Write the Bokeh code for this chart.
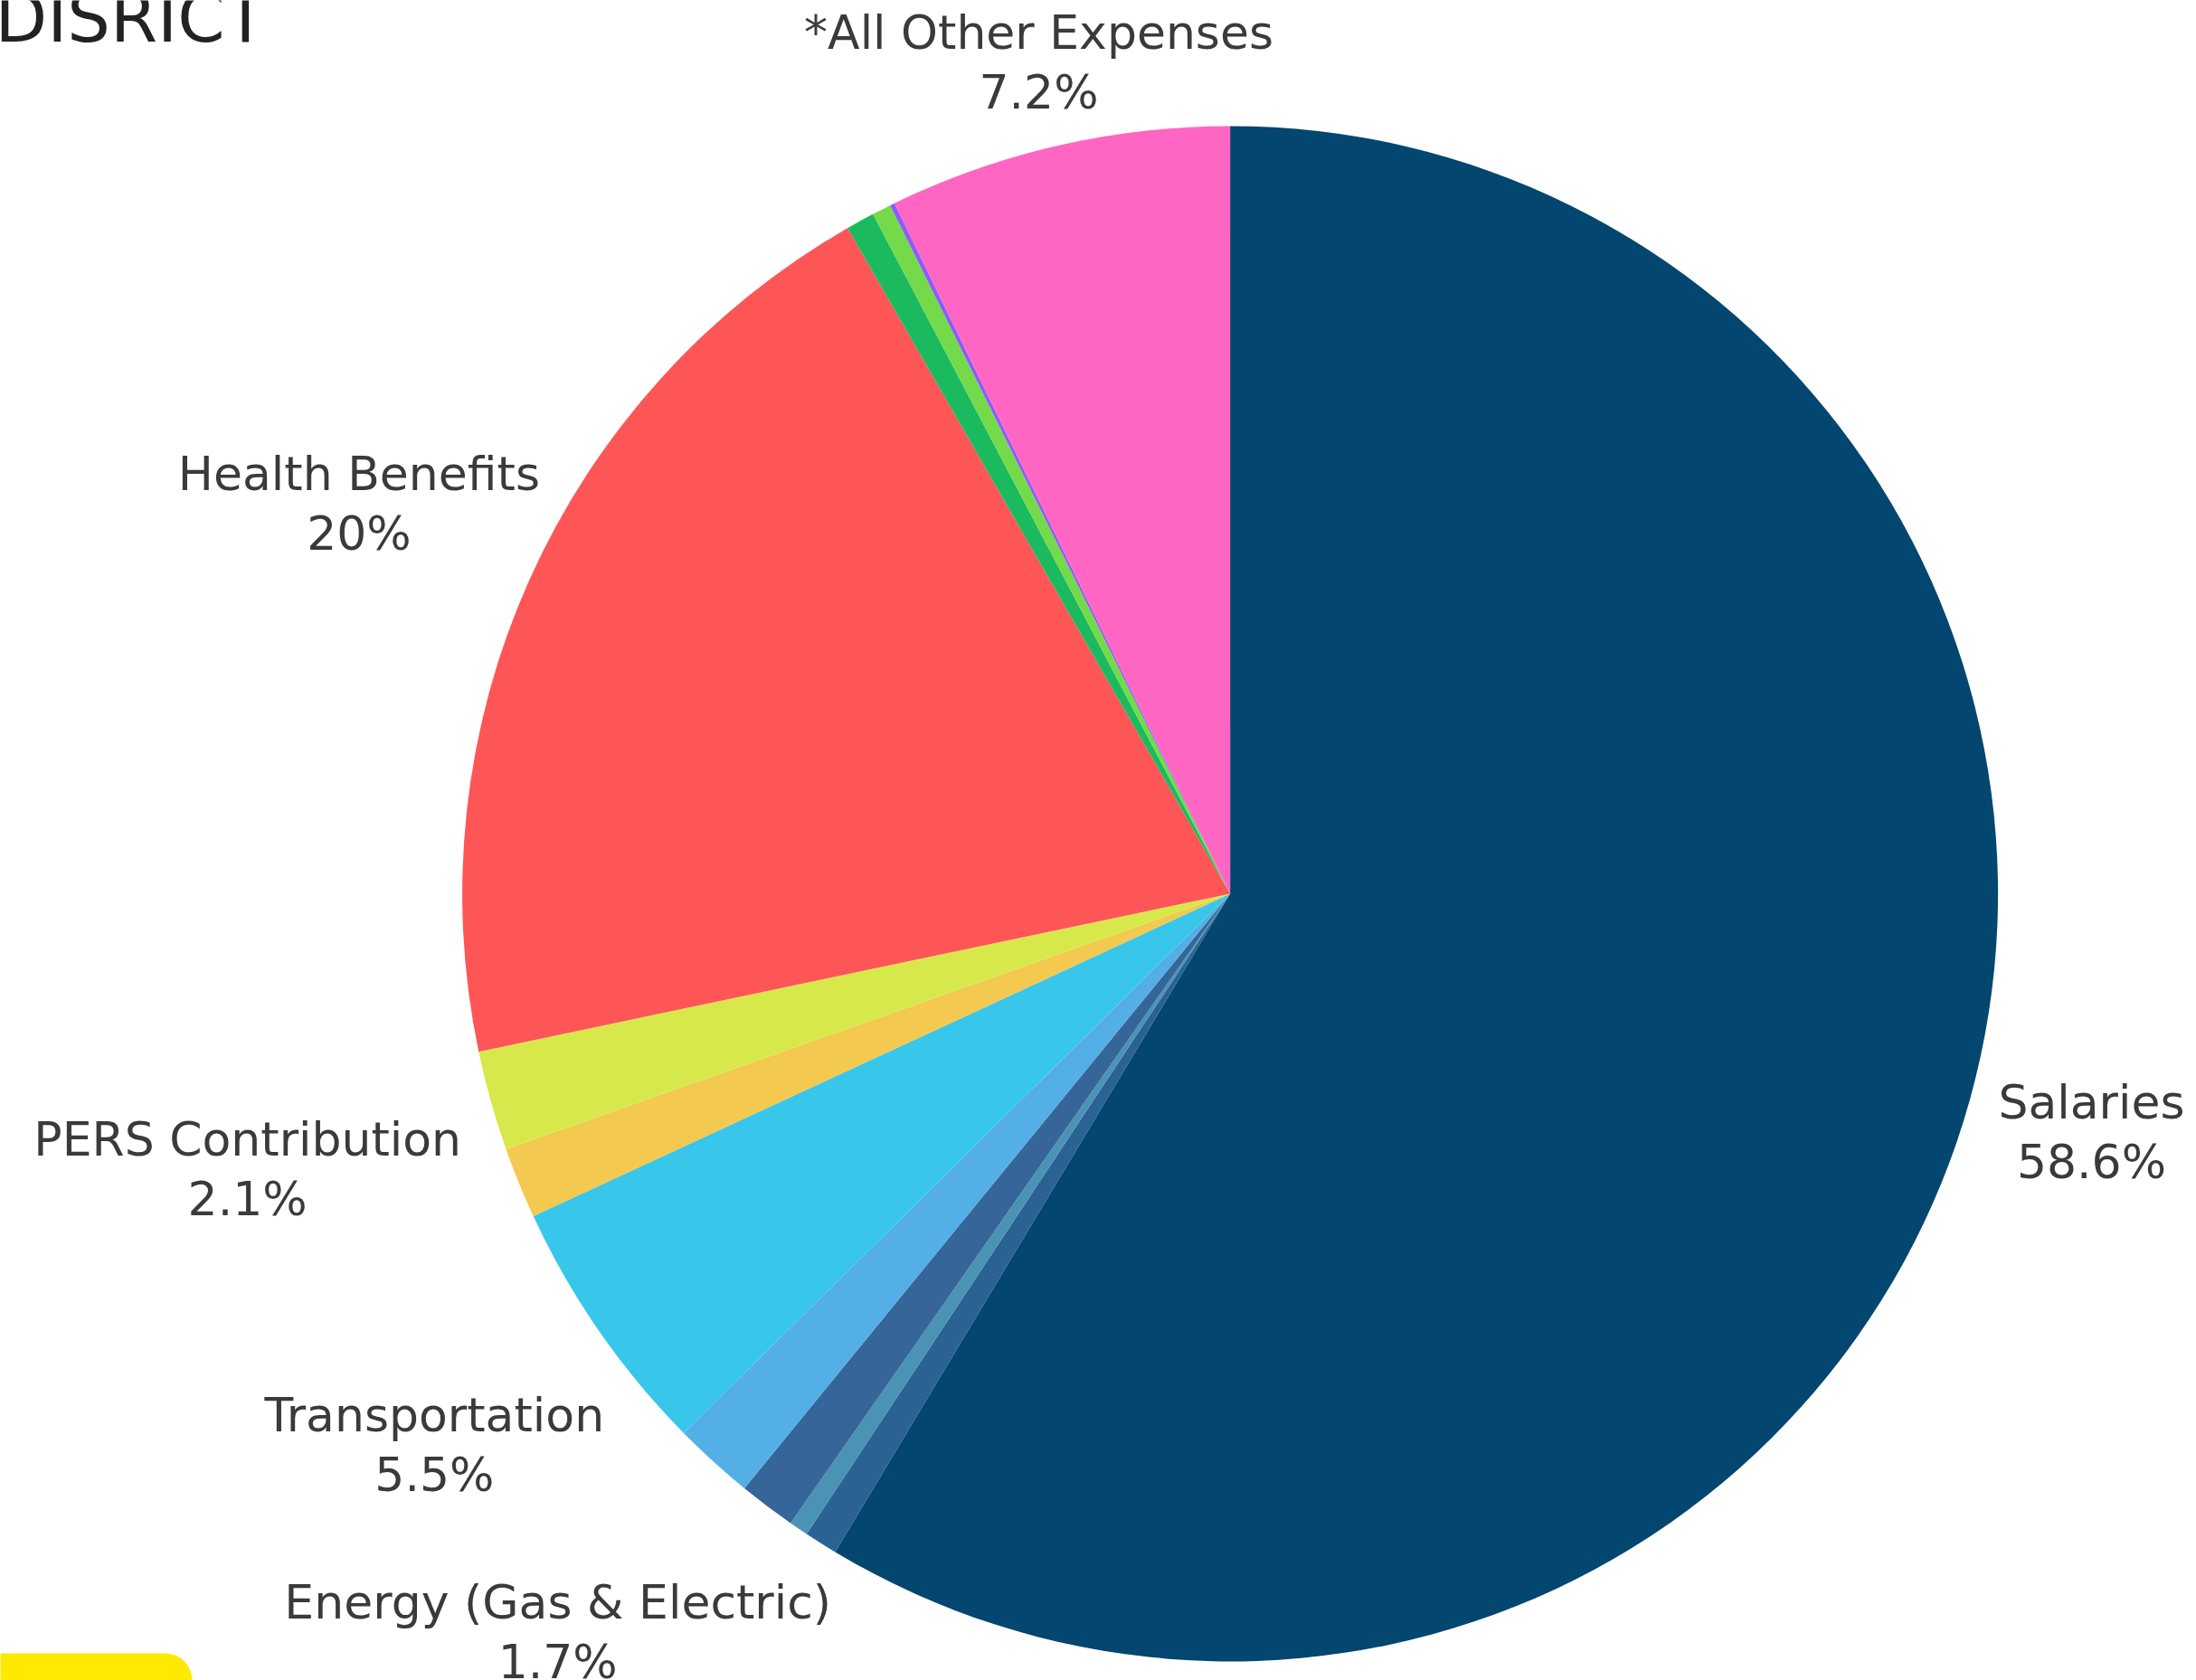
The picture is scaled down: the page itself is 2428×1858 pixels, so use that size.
import numpy as np
from bokeh.plotting import figure
from bokeh.models import ColumnDataSource, Range1d
from bokeh.core.properties import value
from bokeh.embed import file_html
from bokeh.resources import INLINE

# ---------------- data ----------------
categories = ["Salaries", "Other A", "Other B", "Other C", "Energy (Gas & Electric)",
              "Transportation", "Other D", "PERS Contribution", "Health Benefits",
              "Other E", "Other F", "Other G", "*All Other Expenses"]
shares = [58.6, 0.7, 0.4, 1.2, 1.7, 5.5, 1.5, 2.1, 20.0, 0.6, 0.4, 0.1, 7.2]
pct_labels = ["58.6%", "", "", "", "1.7%", "5.5%", "", "2.1%", "20%", "", "", "", "7.2%"]
show_label = [True, False, False, False, True, True, False, True, True, False, False, False, True]
colors = ["#03466f", "#2b6294", "#4a93b4", "#36659a", "#53afe5", "#38c7eb",
          "#f3c94f", "#d7e94a", "#fe5656", "#1bba5f", "#74da4a", "#8f5cf7", "#ff66c4"]
title_text = "DISRICT"

# ---------------- layout ----------------
W, H = 2428, 1858
cx, cy, R = 1359.6, H - 987.9, 849.0
label_dist = [1.164, 0, 0, 0, 1.301, 1.261, 0, 1.329, 1.243, 0, 0, 0, 1.111]
half_gap = 33
font = value("DejaVu Sans")
txt_color = "#3a3a3a"

p = figure(width=W, height=H, x_range=Range1d(0, W), y_range=Range1d(0, H),
           output_backend="svg", toolbar_location=None, min_border=0,
           x_axis_type=None, y_axis_type=None)
p.grid.visible = False
p.outline_line_color = None
p.background_fill_color = "white"
p.border_fill_color = "white"

arr = np.array(shares, dtype=float)
frac = arr / arr.sum()
cum_end = np.cumsum(frac) * 2 * np.pi
cum_start = cum_end - frac * 2 * np.pi
src = ColumnDataSource(dict(
    cat=categories,
    start=np.pi / 2 - cum_end,
    end=np.pi / 2 - cum_start,
    color=colors,
))
p.wedge(x=cx, y=cy, radius=R, start_angle="start", end_angle="end",
        fill_color="color", line_color=None, source=src)

mid = (cum_start + cum_end) / 2
lx, ly, names, pcts = [], [], [], []
for i, show in enumerate(show_label):
    if not show:
        continue
    d = label_dist[i] * R
    lx.append(cx + d * np.sin(mid[i]))
    ly.append(cy + d * np.cos(mid[i]))
    names.append(categories[i])
    pcts.append(pct_labels[i])
lx = np.array(lx)
ly = np.array(ly)

p.text(x=lx, y=ly + half_gap, text=names, text_font=font, text_font_size="52px",
       text_color=txt_color, text_align="center", text_baseline="middle")
p.text(x=lx, y=ly - half_gap, text=pcts, text_font=font, text_font_size="52px",
       text_color=txt_color, text_align="center", text_baseline="middle")

# partial page elements (cut by the page edge in the reference)
p.text(x=[-6], y=[H - 19], text=[title_text], text_font=font, text_font_size="75px",
       text_color="#222222", text_align="left", text_baseline="middle")
p.quad(left=[-60], right=[212], top=[H - 1828], bottom=[-80], fill_color="#ffe900",
       line_color=None, border_radius=30)

open("out.html", "w").write(file_html(p, INLINE))
